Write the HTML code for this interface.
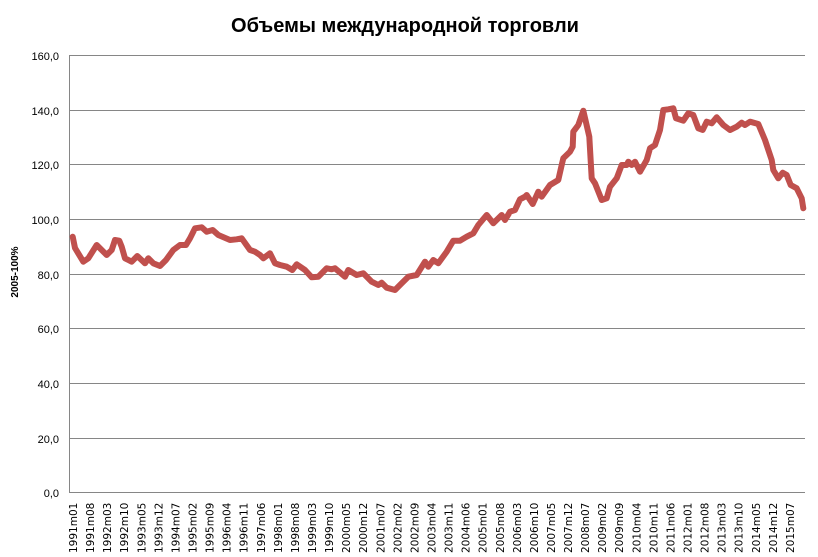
<!DOCTYPE html>
<html><head><meta charset="utf-8"><style>
body{margin:0;background:#fff;}
svg{display:block;font-family:"Liberation Sans","DejaVu Sans",sans-serif;}
</style></head><body>
<svg width="818" height="557" xmlns="http://www.w3.org/2000/svg">
<text x="405" y="32" text-anchor="middle" font-size="20" font-weight="bold" fill="#000">Объемы международной торговли</text>
<g stroke="#868686" stroke-width="1">
<line x1="69.5" y1="55.5" x2="805" y2="55.5"/>
<line x1="69.5" y1="110.5" x2="805" y2="110.5"/>
<line x1="69.5" y1="164.5" x2="805" y2="164.5"/>
<line x1="69.5" y1="219.5" x2="805" y2="219.5"/>
<line x1="69.5" y1="274.5" x2="805" y2="274.5"/>
<line x1="69.5" y1="328.5" x2="805" y2="328.5"/>
<line x1="69.5" y1="383.5" x2="805" y2="383.5"/>
<line x1="69.5" y1="438.5" x2="805" y2="438.5"/>
<line x1="69.5" y1="492.5" x2="805" y2="492.5"/>
<line x1="69.5" y1="55" x2="69.5" y2="493"/>
</g>
<g font-size="11" text-anchor="end" fill="#000">
<text x="59" y="60">160,0</text><text x="59" y="115">140,0</text><text x="59" y="169">120,0</text><text x="59" y="224">100,0</text><text x="59" y="279">80,0</text><text x="59" y="333">60,0</text><text x="59" y="388">40,0</text><text x="59" y="443">20,0</text><text x="59" y="497">0,0</text>
</g>
<text transform="translate(18,272) rotate(-90)" text-anchor="middle" font-size="10" font-weight="bold">2005-100%</text>
<polyline fill="none" stroke="#c0504d" stroke-width="6" stroke-linejoin="round" stroke-linecap="round" points="72.7,236.7 75,248 83.3,261.7 88.3,258.3 96.7,245 106.7,255 111.7,250 115,240 119.3,240.7 121.7,246.7 125,258.3 131.7,261.7 137.3,256 145,263.3 148.3,258.3 153.3,263.3 160,266 166,260 173.3,250 180,245 186,245 190,238.3 195,228.3 201.7,227.3 206.7,231.7 212.7,230 218.3,235 230,240 236.7,239.3 241.7,238.3 250,250 255,251.7 260,255 263.3,258.3 270,253.3 275,263.3 280,265 286.7,266.7 292.3,270 296.7,264.3 305,270 311.7,277.3 318.3,276.7 326.7,268.3 331.7,269.3 335,268.3 345,276.7 348.3,270 356.7,275 363.3,273.3 371.7,281.7 378.3,285 381.7,282.7 386.7,287.7 395,290 401.7,283.3 408.3,276.7 416.7,275 425,261.7 428.3,266.7 433.3,260 438.3,263.3 446.7,251.7 453.3,240.7 460,240.7 466.7,236.7 473.3,233.3 478.3,225 486.7,215 493.3,223.3 501.7,215 505,220 510,211.7 515,210 520,199.3 525,196.7 526.7,195 532.7,204 538.3,191.7 541.7,196.7 550,185 558.3,180 561.7,165 563.3,158.3 570,151.7 572.7,146.7 573.3,131.7 578.3,125 583.3,110.7 589.3,136.7 591.7,178.3 595,183.3 601.7,200 606.7,198.3 610,186.7 616.7,178.3 621.7,165 626.7,165 628.3,161.7 631.7,165 635,161.7 640,171.7 646.7,160 650,148.3 655,145 660,130 663.3,110 668.3,109.3 673.3,108.3 676,118.3 683.3,120.7 688.3,113.3 693.3,115 698.3,128.3 702.7,130 706.7,121.7 711.7,123.3 716.7,117.3 723.3,125 730,130 736.7,126.7 741.7,122.7 745,125 750,121.7 758.3,124 765,140 771.7,160 773.3,170 778.3,178.3 782.7,172.7 786.7,175 790.7,185 796.7,188.3 801.7,198.3 803.3,208.3"/>
<g font-size="10.5" fill="#000" font-family="'DejaVu Sans',sans-serif">
<text transform="translate(77.0,553) rotate(-90)">1991m01</text>
<text transform="translate(94.1,553) rotate(-90)">1991m08</text>
<text transform="translate(111.1,553) rotate(-90)">1992m03</text>
<text transform="translate(128.2,553) rotate(-90)">1992m10</text>
<text transform="translate(145.3,553) rotate(-90)">1993m05</text>
<text transform="translate(162.4,553) rotate(-90)">1993m12</text>
<text transform="translate(179.4,553) rotate(-90)">1994m07</text>
<text transform="translate(196.5,553) rotate(-90)">1995m02</text>
<text transform="translate(213.6,553) rotate(-90)">1995m09</text>
<text transform="translate(230.6,553) rotate(-90)">1996m04</text>
<text transform="translate(247.7,553) rotate(-90)">1996m11</text>
<text transform="translate(264.8,553) rotate(-90)">1997m06</text>
<text transform="translate(281.8,553) rotate(-90)">1998m01</text>
<text transform="translate(298.9,553) rotate(-90)">1998m08</text>
<text transform="translate(316.0,553) rotate(-90)">1999m03</text>
<text transform="translate(333.1,553) rotate(-90)">1999m10</text>
<text transform="translate(350.1,553) rotate(-90)">2000m05</text>
<text transform="translate(367.2,553) rotate(-90)">2000m12</text>
<text transform="translate(384.3,553) rotate(-90)">2001m07</text>
<text transform="translate(401.3,553) rotate(-90)">2002m02</text>
<text transform="translate(418.4,553) rotate(-90)">2002m09</text>
<text transform="translate(435.5,553) rotate(-90)">2003m04</text>
<text transform="translate(452.5,553) rotate(-90)">2003m11</text>
<text transform="translate(469.6,553) rotate(-90)">2004m06</text>
<text transform="translate(486.7,553) rotate(-90)">2005m01</text>
<text transform="translate(503.8,553) rotate(-90)">2005m08</text>
<text transform="translate(520.8,553) rotate(-90)">2006m03</text>
<text transform="translate(537.9,553) rotate(-90)">2006m10</text>
<text transform="translate(555.0,553) rotate(-90)">2007m05</text>
<text transform="translate(572.0,553) rotate(-90)">2007m12</text>
<text transform="translate(589.1,553) rotate(-90)">2008m07</text>
<text transform="translate(606.2,553) rotate(-90)">2009m02</text>
<text transform="translate(623.2,553) rotate(-90)">2009m09</text>
<text transform="translate(640.3,553) rotate(-90)">2010m04</text>
<text transform="translate(657.4,553) rotate(-90)">2010m11</text>
<text transform="translate(674.5,553) rotate(-90)">2011m06</text>
<text transform="translate(691.5,553) rotate(-90)">2012m01</text>
<text transform="translate(708.6,553) rotate(-90)">2012m08</text>
<text transform="translate(725.7,553) rotate(-90)">2013m03</text>
<text transform="translate(742.7,553) rotate(-90)">2013m10</text>
<text transform="translate(759.8,553) rotate(-90)">2014m05</text>
<text transform="translate(776.9,553) rotate(-90)">2014m12</text>
<text transform="translate(793.9,553) rotate(-90)">2015m07</text>
</g>
</svg>
</body></html>
